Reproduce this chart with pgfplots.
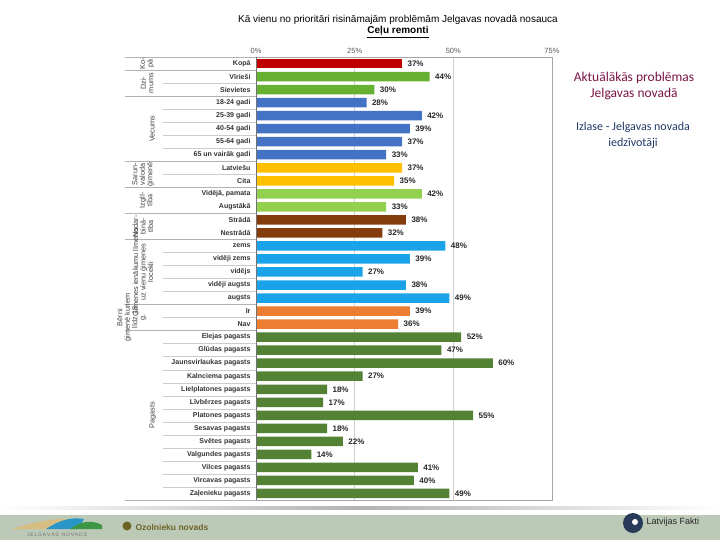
\documentclass[border=0pt]{standalone}
\usepackage{pgfplots}
\pgfplotsset{compat=1.18}
\usepackage{fontspec}
\setmainfont{Liberation Sans}
\newfontfamily\calib{Carlito}

\definecolor{cKopa}{HTML}{C00000}
\definecolor{cDzim}{HTML}{66B032}
\definecolor{cVec}{HTML}{4472C4}
\definecolor{cVal}{HTML}{FFC000}
\definecolor{cIzg}{HTML}{92D050}
\definecolor{cNod}{HTML}{843C0C}
\definecolor{cIen}{HTML}{1AA3E8}
\definecolor{cBer}{HTML}{ED7D31}
\definecolor{cPag}{HTML}{548235}
\definecolor{footbg}{HTML}{BDC9B7}
\definecolor{maroon}{HTML}{7A1446}
\definecolor{navy}{HTML}{1F3864}
\definecolor{sand}{HTML}{D6BE82}
\definecolor{lake}{HTML}{2896C8}
\definecolor{hill}{HTML}{3C9646}
\definecolor{olive}{HTML}{6E6428}
\definecolor{lfblue}{HTML}{283C5A}

\begin{document}
\begin{tikzpicture}[x=1pt,y=1pt]
% page frame 720 x 540
\path (0,0) rectangle (720,540);

% titles
\node[font=\fontsize{10}{12}\selectfont] at (398,520) {Kā vienu no prioritāri risināmajām problēmām Jelgavas novadā nosauca};
\node[font=\bfseries\fontsize{10}{12}\selectfont] at (398,508) {\underline{Ceļu remonti}};

% side notes
\node[font=\calib\fontsize{13.5}{16}\selectfont, text=maroon, align=center] at (634,454) {Aktuālākās problēmas\\Jelgavas novadā};
\node[font=\calib\fontsize{12}{16}\selectfont, text=navy, align=center] at (633,405) {Izlase - Jelgavas novada\\iedzīvotāji};

\begin{axis}[
  at={(256pt,40pt)}, anchor=south west,
  scale only axis, width=296pt, height=443pt,
  xbar, bar width=9.5pt, bar shift=0pt,
  xmin=0, xmax=75, ymin=-0.5, ymax=33.5, y dir=reverse,
  xtick={0,25,50,75}, xticklabels={0\%,25\%,50\%,75\%},
  xticklabel pos=upper,
  ytick={0,...,33},
  yticklabels={Kopā, Vīrieši, Sievietes, 18-24 gadi, 25-39 gadi, 40-54 gadi, 55-64 gadi, 65 un vairāk gadi, Latviešu, Cita, {Vidējā, pamata}, Augstākā, Strādā, Nestrādā, zems, vidēji zems, vidējs, vidēji augsts, augsts, Ir, Nav, Elejas pagasts, Glūdas pagasts, Jaunsvirlaukas pagasts, Kalnciema pagasts, Lielplatones pagasts, Līvbērzes pagasts, Platones pagasts, Sesavas pagasts, Svētes pagasts, Valgundes pagasts, Vilces pagasts, Vircavas pagasts, Zaļenieku pagasts},
  major tick length=0pt,
  xticklabel style={font=\fontsize{7.5}{8}\selectfont, text=black!65},
  yticklabel style={font=\bfseries\fontsize{7}{8}\selectfont, text=black!80, xshift=-2pt},
  xmajorgrids, grid style={black!18},
  axis line style={black!35},
  nodes near coords={\pgfmathprintnumber{\pgfplotspointmeta}\%},
  every node near coord/.append style={font=\bfseries\fontsize{8}{9}\selectfont, text=black!85, xshift=2pt},
  /pgf/number format/assume math mode=true,
  clip=false,
]
\addplot[fill=cKopa, draw=none] coordinates {(37,0)};
\addplot[fill=cDzim, draw=none] coordinates {(44,1) (30,2)};
\addplot[fill=cVec, draw=none] coordinates {(28,3) (42,4) (39,5) (37,6) (33,7)};
\addplot[fill=cVal, draw=none] coordinates {(37,8) (35,9)};
\addplot[fill=cIzg, draw=none] coordinates {(42,10) (33,11)};
\addplot[fill=cNod, draw=none] coordinates {(38,12) (32,13)};
\addplot[fill=cIen, draw=none] coordinates {(48,14) (39,15) (27,16) (38,17) (49,18)};
\addplot[fill=cBer, draw=none] coordinates {(39,19) (36,20)};
\addplot[fill=cPag, draw=none] coordinates {(52,21) (47,22) (60,23) (27,24) (18,25) (17,26) (55,27) (18,28) (22,29) (14,30) (41,31) (40,32) (49,33)};

% row separators in the label area
\pgfplotsinvokeforeach{1.5,3.5,4.5,5.5,6.5,8.5,14.5,15.5,16.5,17.5,19.5,21.5,22.5,23.5,24.5,25.5,26.5,27.5,28.5,29.5,30.5,31.5,32.5}{
  \draw[black!20] (axis cs:-23.6,#1) -- (axis cs:0,#1);
}
% group separators
\pgfplotsinvokeforeach{-0.5,0.5,2.5,7.5,9.5,11.5,13.5,18.5,20.5,33.5}{
  \draw[black!30] (axis cs:-33.2,#1) -- (axis cs:0,#1);
}
\draw[black!55] (axis cs:0,-0.5) -- (axis cs:0,33.5);

% group labels
\node[rotate=90, align=center, font=\fontsize{7.3}{7.5}\selectfont, text=black!75, inner sep=0pt] at (axis cs:-27.6,0) {Ko-\\pā};
\node[rotate=90, align=center, font=\fontsize{7.3}{7.5}\selectfont, text=black!75, inner sep=0pt] at (axis cs:-27.6,1.5) {Dzi-\\mums};
\node[rotate=90, align=center, font=\fontsize{7.3}{7.5}\selectfont, text=black!75, inner sep=0pt] at (axis cs:-26.3,5) {Vecums};
\node[rotate=90, align=center, font=\fontsize{7.3}{7.5}\selectfont, text=black!75, inner sep=0pt] at (axis cs:-28.6,8.5) {Sarun-\\valoda\\ģimenē};
\node[rotate=90, align=center, font=\fontsize{7.3}{7.5}\selectfont, text=black!75, inner sep=0pt] at (axis cs:-27.9,10.5) {Izglī-\\tība};
\node[rotate=90, align=center, font=\fontsize{7.3}{7.5}\selectfont, text=black!75, inner sep=0pt] at (axis cs:-28.6,12.5) {Nodar-\\binā-\\tība};
\node[rotate=90, align=center, font=\fontsize{7.3}{7.5}\selectfont, text=black!75, inner sep=0pt] at (axis cs:-28.6,16) {Ģimenes ienākumu līmenis\\uz vienu ģimenes\\locekli};
\node[rotate=90, align=center, font=\fontsize{7.3}{7.5}\selectfont, text=black!75, inner sep=0pt] at (axis cs:-31.5,19.5) {Bērni\\ģimenē kuriem\\līdz 18\\g.};
\node[rotate=90, align=center, font=\fontsize{7.3}{7.5}\selectfont, text=black!75, inner sep=0pt] at (axis cs:-26.1,27) {Pagasts};
\end{axis}

% footer
\shade[left color=white, right color=white, middle color=black!30] (0,31) rectangle (720,34);
\fill[footbg] (0,0) rectangle (720,25);
% Jelgavas novads logo
\fill[sand] (12,11) .. controls (40,20) and (60,22) .. (78,21) -- (55,11) -- cycle;
\fill[lake] (46,11) .. controls (60,20) and (70,23) .. (84,21) -- (78,11) -- cycle;
\fill[hill] (70,11) .. controls (80,18) and (90,21) .. (102,15) -- (102,11) -- cycle;
\node[font=\fontsize{5}{6}\selectfont, text=black!55] at (57,5) {J\,E\,L\,G\,A\,V\,A\,S\ \ N\,O\,V\,A\,D\,S};
% Ozolnieku novads
\fill[olive] (127,14) circle (4.5);
\node[font=\bfseries\fontsize{8.5}{9}\selectfont, text=olive, anchor=west] at (132,13) {Ozolnieku novads};
% Latvijas Fakti
\fill[lfblue] (633,17) circle (10);
\fill[white] (635,18) circle (3);
\node[font=\fontsize{9}{10}\selectfont, text=black!85, anchor=west] at (643,18) {Latvijas Fakti};
\end{tikzpicture}
\end{document}
